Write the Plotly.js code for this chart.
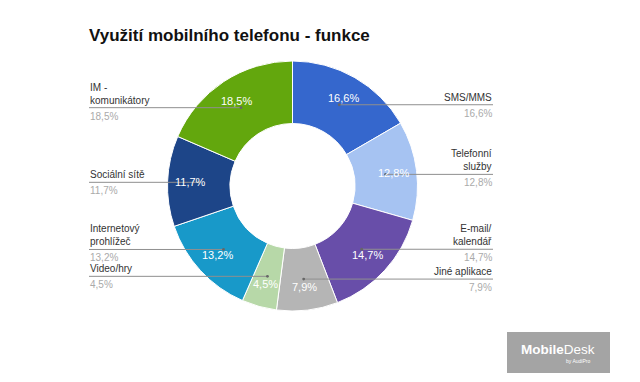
<!DOCTYPE html>
<html>
<head>
<meta charset="utf-8">
<script src="https://cdn.plot.ly/plotly-3.0.1.min.js"></script>
<style>html,body{margin:0;padding:0;background:#fff;}#chart{width:640px;height:382px;}</style>
</head>
<body>
<div id="chart"></div>
<script>
// ---- data ----
var categories = ["SMS/MMS", "Telefonní služby", "E-mail/ kalendář", "Jiné aplikace", "Video/hry", "Internetový prohlížeč", "Sociální sítě", "IM - komunikátory"];
var labelLines = ["SMS/MMS", "Telefonní<br>služby", "E-mail/<br>kalendář", "Jiné aplikace", "Video/hry", "Internetový<br>prohlížeč", "Sociální sítě", "IM -<br>komunikátory"];
var shares = [16.6, 12.8, 14.7, 7.9, 4.5, 13.2, 11.7, 18.5];
var sliceColors = ["#3567cd", "#a6c3f2", "#684ea9", "#b5b5b5", "#b7d8a8", "#1899c9", "#1d4588", "#63a70d"];

// ---- geometry (layout) ----
var W = 640, H = 382;
var CX = 292.5, CY = 186, R = 125;
var HOLE = 0.5;
var LEFT_X = 89, RIGHT_X = 493;
var FONT = 'Liberation Sans, Arial, sans-serif';
function px(x){ return x / W; }
function py(y){ return 1 - y / H; }

var total = shares.reduce(function(a,b){return a+b;}, 0);
var shapes = [], annotations = [];
var cum = 0;
var fmt = function(v){ return v.toFixed(1).replace('.', ',') + '%'; };
for (var i = 0; i < shares.length; i++) {
  var mid = (cum + shares[i] / 2) / total * 2 * Math.PI;
  cum += shares[i];
  var rr = R * (1 + HOLE) / 2;
  var dx = CX + rr * Math.sin(mid);
  var dy = CY - rr * Math.cos(mid);
  var right = Math.sin(mid) > 0;
  var ex = right ? RIGHT_X : LEFT_X;
  shapes.push({type:'line', xref:'paper', yref:'paper', x0:px(dx), y0:py(dy), x1:px(ex), y1:py(dy),
    line:{color:'#8f8f8f', width:1}});
  shapes.push({type:'circle', xref:'paper', yref:'paper', x0:px(dx-1.4), y0:py(dy-1.4), x1:px(dx+1.4), y1:py(dy+1.4),
    fillcolor:'#666', line:{width:0}});
  annotations.push({xref:'paper', yref:'paper', x:px(ex), y:py(dy - 1), xanchor: right ? 'right' : 'left', yanchor:'bottom',
    align: right ? 'right' : 'left', text: labelLines[i], showarrow:false, borderpad:0,
    font:{family:FONT, size:10, color:'#333'}});
  annotations.push({xref:'paper', yref:'paper', x:px(ex), y:py(dy + 2), xanchor: right ? 'right' : 'left', yanchor:'top',
    align: right ? 'right' : 'left', text: fmt(shares[i]), showarrow:false, borderpad:0,
    font:{family:FONT, size:10, color:'#aaaaaa'}});
  // inside percentage
  var ri = R * 0.815;
  annotations.push({xref:'paper', yref:'paper', x:px(CX + ri * Math.sin(mid)), y:py(CY - ri * Math.cos(mid)),
    xanchor:'center', yanchor:'middle', text: fmt(shares[i]), showarrow:false,
    font:{family:FONT, size:11, color:'#ffffff'}});
}

// logo
shapes.push({type:'rect', xref:'paper', yref:'paper', x0:px(507), x1:px(610), y0:py(332), y1:py(373),
  fillcolor:'#a4a4a4', line:{width:0}, layer:'above'});
annotations.push({xref:'paper', yref:'paper', x:px(558), y:py(349), xanchor:'center', yanchor:'middle', showarrow:false,
  text:'<b>Mobile</b>Desk', font:{family:FONT, size:13.5, color:'#ffffff'}});
annotations.push({xref:'paper', yref:'paper', x:px(592), y:py(361), xanchor:'right', yanchor:'middle', showarrow:false,
  text:'by AudiPro', font:{family:FONT, size:5, color:'#ffffff'}});

var trace = {
  type:'pie',
  labels: categories,
  values: shares,
  hole: HOLE,
  sort: false,
  direction: 'clockwise',
  rotation: 0,
  marker: {colors: sliceColors, line:{color:'#ffffff', width:1}},
  textinfo: 'none',
  domain: {x:[px(CX-R), px(CX+R)], y:[py(CY+R), py(CY-R)]},
  showlegend: false,
  hoverinfo: 'label+value'
};

var layout = {
  width: W, height: H,
  margin: {l:0, r:0, t:0, b:0},
  paper_bgcolor: '#ffffff',
  separators: ', ',
  showlegend: false,
  title: {text:'Využití mobilního telefonu - funkce', x: px(89), xanchor:'left', xref:'paper',
    y: py(35), yanchor:'middle', yref:'paper',
    font:{family:FONT, size:17, color:'#111', weight:700}},
  shapes: shapes,
  annotations: annotations
};

Plotly.newPlot('chart', [trace], layout, {displayModeBar:false, staticPlot:true});
</script>
</body>
</html>
